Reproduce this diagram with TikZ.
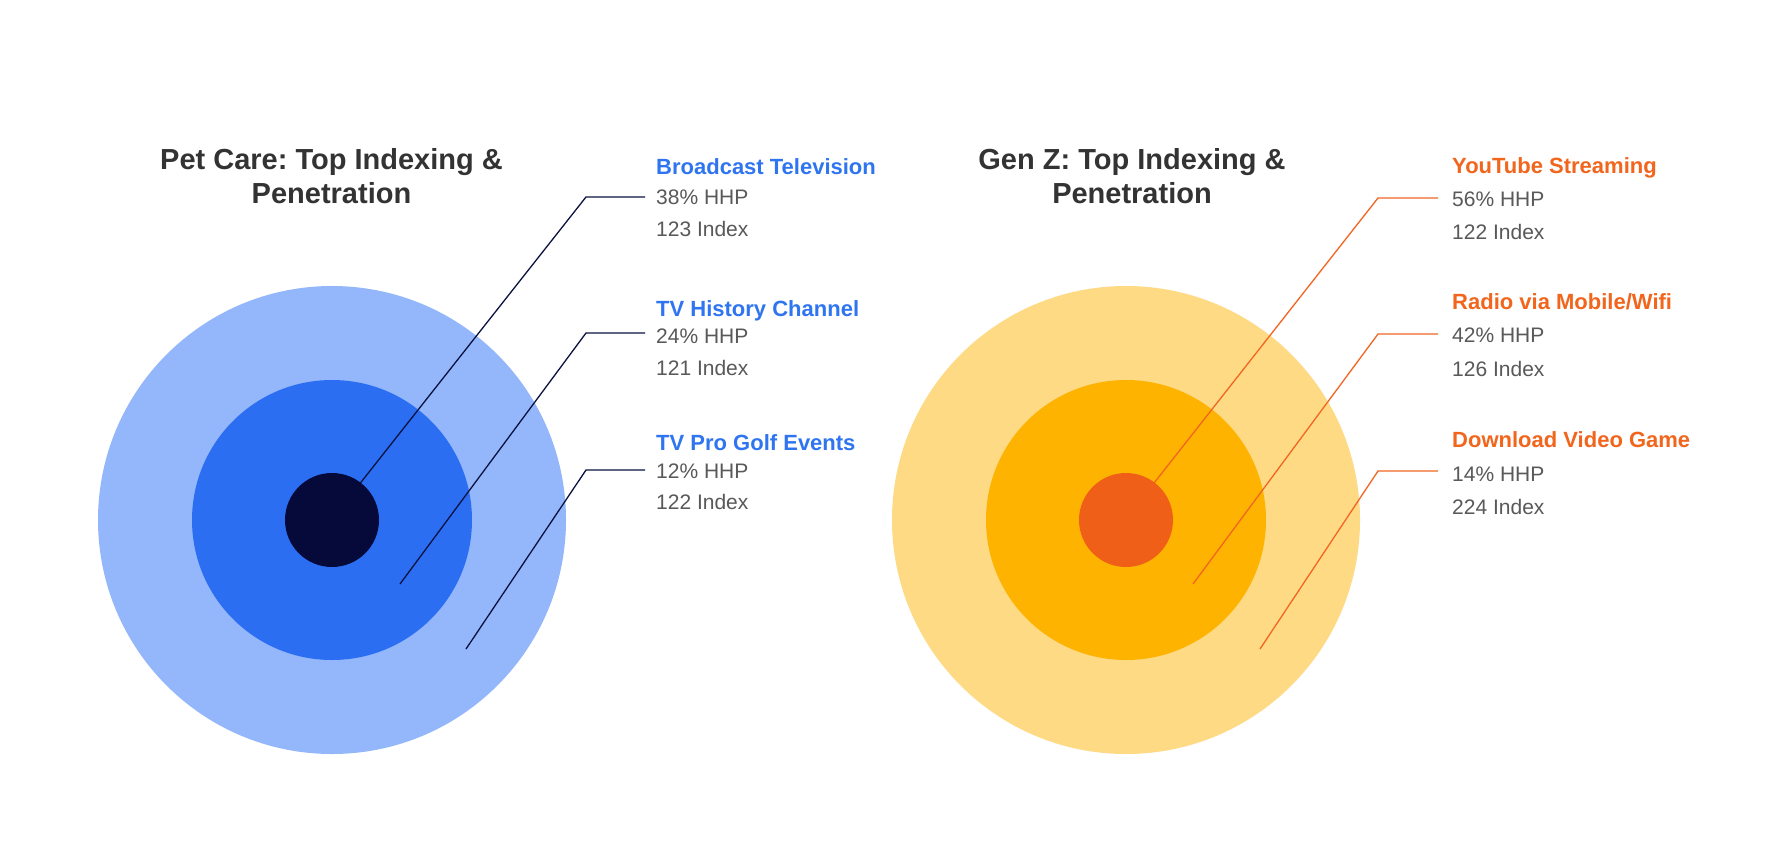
\documentclass[tikz,border=0pt]{standalone}
\usepackage{fontspec}
\setmainfont{Liberation Sans}
\frenchspacing
\definecolor{bOuter}{HTML}{94B6FB}
\definecolor{bMid}{HTML}{2B6EF2}
\definecolor{bInner}{HTML}{050A3A}
\definecolor{bText}{HTML}{2F74F0}
\definecolor{bLine}{HTML}{0A1240}
\definecolor{oOuter}{HTML}{FEDA85}
\definecolor{oMid}{HTML}{FEB300}
\definecolor{oInner}{HTML}{EF5F18}
\definecolor{oText}{HTML}{F2651C}
\definecolor{oLine}{HTML}{F26522}
\definecolor{grayText}{HTML}{595959}
\definecolor{titleText}{HTML}{333333}
\tikzset{
  titletext/.style={inner sep=0pt, anchor=base, text=titleText, font=\fontsize{29}{33}\selectfont\bfseries},
  headb/.style={inner sep=0pt, anchor=base west, text=bText, font=\fontsize{22}{26}\selectfont\bfseries},
  heado/.style={inner sep=0pt, anchor=base west, text=oText, font=\fontsize{22}{26}\selectfont\bfseries},
  valtext/.style={inner sep=0pt, anchor=base west, text=grayText, font=\fontsize{21}{25}\selectfont},
  bleader/.style={draw=bLine, line width=1.3pt},
  oleader/.style={draw=oLine, line width=1.3pt},
}
\begin{document}
\begin{tikzpicture}[x=1pt,y=-1pt]
\useasboundingbox (0,0) rectangle (1771,848);
\fill[white] (0,0) rectangle (1771,848);

% ---------- left chart ----------
\fill[bOuter] (332,520) circle[radius=234];
\fill[bMid] (332,520) circle[radius=140];

\node[titletext] (t1a) at (331.5,169) {Pet Care: Top Indexing \&};
\node[titletext] (t1b) at (331.5,203) {Penetration};

\node[headb] (h1) at (656,174) {Broadcast Television};
\node[valtext] (v1a) at (656,204.5) {38\% HHP};
\node[valtext] (v1b) at (656,236) {123 Index};

\node[headb] (h2) at (656,316) {TV History Channel};
\node[valtext] (v2a) at (656,343) {24\% HHP};
\node[valtext] (v2b) at (656,375) {121 Index};

\node[headb] (h3) at (656,450) {TV Pro Golf Events};
\node[valtext] (v3a) at (656,478) {12\% HHP};
\node[valtext] (v3b) at (656,509.5) {122 Index};

\coordinate (e1) at (586,197);
\coordinate (e2) at (586,333);
\coordinate (e3) at (586,470);
\coordinate (c1) at (332,519);
\coordinate (c2) at (400,584);
\coordinate (c3) at (466,649);
\draw[bleader] ([xshift=-11pt]v1a.west |- e1) -- (e1) -- (c1);
\draw[bleader] ([xshift=-11pt]v2a.west |- e2) -- (e2) -- (c2);
\draw[bleader] ([xshift=-11pt]v3a.west |- e3) -- (e3) -- (c3);

\fill[bInner] (332,520) circle[radius=47];

% ---------- right chart ----------
\fill[oOuter] (1126,520) circle[radius=234];
\fill[oMid] (1126,520) circle[radius=140];

\node[titletext] (t2a) at (1132,169) {Gen Z: Top Indexing \&};
\node[titletext] (t2b) at (1132,203) {Penetration};

\node[heado] (k1) at (1452,173) {YouTube Streaming};
\node[valtext] (w1a) at (1452,206) {56\% HHP};
\node[valtext] (w1b) at (1452,239) {122 Index};

\node[heado] (k2) at (1452,309) {Radio via Mobile/Wifi};
\node[valtext] (w2a) at (1452,342) {42\% HHP};
\node[valtext] (w2b) at (1452,376) {126 Index};

\node[heado] (k3) at (1452,447) {Download Video Game};
\node[valtext] (w3a) at (1452,481) {14\% HHP};
\node[valtext] (w3b) at (1452,514) {224 Index};

\coordinate (f1) at (1378,198);
\coordinate (f2) at (1378,334);
\coordinate (f3) at (1378,471);
\coordinate (d1) at (1125,520);
\coordinate (d2) at (1193,584);
\coordinate (d3) at (1260,649);
\draw[oleader] ([xshift=-14pt]w1a.west |- f1) -- (f1) -- (d1);
\draw[oleader] ([xshift=-14pt]w2a.west |- f2) -- (f2) -- (d2);
\draw[oleader] ([xshift=-14pt]w3a.west |- f3) -- (f3) -- (d3);

\fill[oInner] (1126,520) circle[radius=47];
\end{tikzpicture}
\end{document}
